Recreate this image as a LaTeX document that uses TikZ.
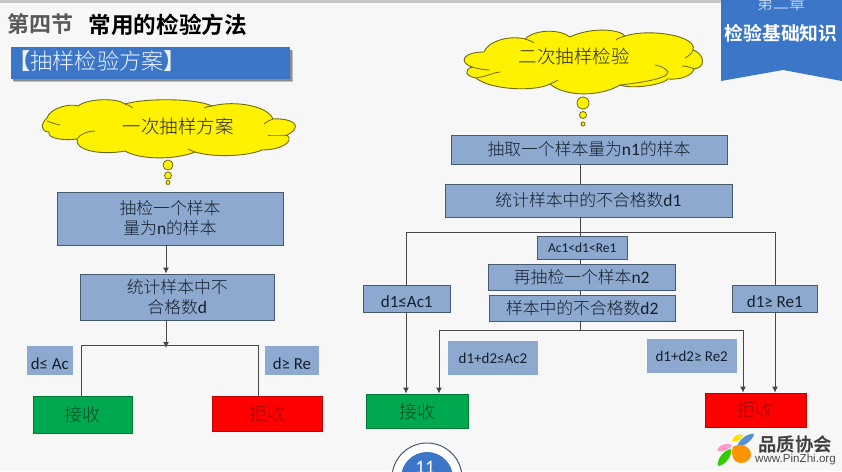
\documentclass[tikz,border=0pt]{standalone}
\usepackage{fontspec}
\setmainfont{Carlito}
\newfontfamily\cjkl{Noto Sans CJK SC Light}
\newfontfamily\cjkb{Noto Sans CJK SC Bold}
\newfontfamily\latn{Liberation Sans}
\newcommand{\lat}[1]{{\rmfamily\fontsize{17.5}{20}\selectfont #1}}
\newcommand{\tagtxt}[1]{\raisebox{0pt}[17pt][0pt]{#1}}
\definecolor{bg}{HTML}{F7F7F7}
\definecolor{boxfill}{HTML}{8EA9CF}
\definecolor{boxline}{HTML}{465A70}
\definecolor{tabblue}{HTML}{3B76C9}
\definecolor{inktxt}{HTML}{141E2C}
\definecolor{linec}{HTML}{474747}
\definecolor{cloudline}{HTML}{6E6A14}
\definecolor{okgreen}{HTML}{00A84F}
\usetikzlibrary{arrows.meta}
\tikzset{
  flowbox/.style={draw=boxline,line width=0.9pt,fill=boxfill,inner sep=0pt,align=center,text=inktxt,font=\fontsize{16.8}{20}\selectfont\cjkl},
  tagbox/.style={fill=boxfill,inner sep=0pt,align=center,text=inktxt,font=\fontsize{15}{18}\selectfont},
  okbox/.style={draw=okgreen!70!black,line width=0.8pt,fill=okgreen,inner sep=0pt,text=okgreen!45!black,font=\fontsize{18}{22}\selectfont\cjkl},
  nobox/.style={draw=red!75!black,line width=0.8pt,fill=red,inner sep=0pt,text=red!60!black,font=\fontsize{18}{22}\selectfont\cjkl},
  link/.style={draw=linec,line width=1pt},
  arrowlink/.style={link,-{Latex[length=6pt,width=6pt]}},
  cloudshape/.style={draw=cloudline,line width=0.9pt,fill=yellow},
  crease/.style={draw=cloudline,line width=0.8pt},
  cloudtext/.style={inner sep=0pt,text=black!85,font=\fontsize{18.5}{22}\selectfont\cjkl},
}
\begin{document}
\begin{tikzpicture}[x=1pt,y=-1pt]
\useasboundingbox (0,0) rectangle (842,471);
\clip (0,0) rectangle (842,471);
\fill[bg] (0,0) rectangle (842,471);
\fill[black!22] (0,0) rectangle (842,3);
% chapter tab
\fill[tabblue] (721,0) -- (842,0) -- (842,81) -- (783,70) -- (721,81) -- cycle;
\node[inner sep=0pt,text=white!90!tabblue,font=\fontsize{16}{18}\selectfont\cjkl] (chap) at (781,3) {第二章};
\node[inner sep=0pt,text=white,font=\fontsize{18.8}{20}\selectfont\cjkb] (chapname) at (781,33) {检验基础知识};
% titles
\node[anchor=west,inner sep=0pt,text=black!65,font=\fontsize{22}{24}\selectfont\cjkb] (sec) at (7.5,24) {第四节};
\node[anchor=west,inner sep=0pt,text=black,font=\fontsize{22.6}{24}\selectfont\cjkb] (sectitle) at (88.5,24.5) {常用的检验方法};
% banner
\fill[black!25] (13.5,50) rectangle (292.5,81.5);
\fill[black!45] (13,49.5) rectangle (291.5,80.5);
\fill[tabblue] (11,47) rectangle (290,79);
\node[anchor=west,inner sep=0pt,text=white!92!tabblue,font=\fontsize{22.2}{26}\selectfont\cjkl] (banner) at (8,61.5) {{\cjkb 【}抽样检验方案{\cjkb 】}};
% cloud 1
\path[cloudshape] (47,118)
  .. controls (50,108) and (70,103) .. (78,106)
  .. controls (88,98) and (118,98) .. (125,104)
  .. controls (145,98) and (195,98) .. (212,106)
  .. controls (235,100) and (268,106) .. (273,119)
  .. controls (285,118) and (298,122) .. (295,128)
  .. controls (293,133) and (288,134) .. (287,135)
  .. controls (295,142) and (280,150) .. (262,150)
  .. controls (248,156) and (215,158) .. (195,152)
  .. controls (175,160) and (140,160) .. (125,151)
  .. controls (105,155) and (75,152) .. (77,139)
  .. controls (62,141) and (47,138) .. (49,132)
  .. controls (41,132) and (40,124) .. (47,118) -- cycle;
\draw[crease] (47,121) .. controls (52,123) and (56,124) .. (60,125);
\draw[crease] (77,139) .. controls (80,134) and (88,131) .. (95,131);
\draw[crease] (287,135) .. controls (280,135) and (273,135) .. (268,135);
\draw[crease] (273,119) .. controls (268,121) and (266,122) .. (264,124);
\draw[crease] (125,104) .. controls (128,105) and (131,106) .. (133,108);
\draw[crease] (212,106) .. controls (209,106) and (206,107) .. (204,108);
\draw[crease] (195,152) .. controls (192,151) and (190,150) .. (188,149);
\node[cloudtext] (c1txt) at (178,126) {一次抽样方案};
\node[circle,draw=cloudline,fill=yellow,line width=0.8pt,minimum size=10pt,inner sep=0pt] (c1a) at (168,165) {};
\node[circle,draw=cloudline,fill=yellow,line width=0.8pt,minimum size=7pt,inner sep=0pt] (c1b) at (168,175.5) {};
\node[circle,draw=cloudline,fill=yellow,line width=0.8pt,minimum size=4pt,inner sep=0pt] (c1c) at (168,182.5) {};
% cloud 2
\path[cloudshape] (484,52)
  .. controls (488,41) and (510,35) .. (525,39)
  .. controls (535,29) and (560,29) .. (570,37)
  .. controls (590,27) and (620,29) .. (625,36)
  .. controls (650,28) and (698,36) .. (693,50)
  .. controls (705,54) and (706,68) .. (694,69)
  .. controls (692,76) and (680,80) .. (668,79)
  .. controls (660,86) and (630,89) .. (620,85)
  .. controls (600,97) and (565,97) .. (550,84)
  .. controls (535,92) and (490,90) .. (476,78)
  .. controls (465,76) and (464,70) .. (472,67)
  .. controls (458,62) and (463,52) .. (484,52) -- cycle;
\draw[crease] (472,67) .. controls (478,69) and (485,70) .. (490,70);
\draw[crease] (476,78) .. controls (488,76) and (495,72) .. (500,72);
\draw[crease] (550,84) .. controls (553,83) and (556,81) .. (558,80);
\draw[crease] (620,85) .. controls (628,84) and (668,80) .. (668,72) .. controls (666,68) and (660,66) .. (655,65);
\draw[crease] (693,50) .. controls (692,53) and (689,56) .. (685,58);
\draw[crease] (694,69) .. controls (690,67) and (686,66) .. (682,66);
\draw[crease] (525,39) .. controls (528,40) and (532,41) .. (534,43);
\draw[crease] (625,36) .. controls (622,37) and (618,38) .. (616,40);
\node[cloudtext] (c2txt) at (574,56) {二次抽样检验};
\node[circle,draw=cloudline,fill=yellow,line width=0.8pt,minimum size=12pt,inner sep=0pt] (c2a) at (583,103) {};
\node[circle,draw=cloudline,fill=yellow,line width=0.8pt,minimum size=7pt,inner sep=0pt] (c2b) at (583,115) {};
\node[circle,draw=cloudline,fill=yellow,line width=0.8pt,minimum size=4pt,inner sep=0pt] (c2c) at (583,124) {};
% page number
\node[circle,draw=boxline,fill=white,line width=1pt,minimum size=70pt,inner sep=0pt] (pgo) at (427,478) {};
\node[circle,fill=tabblue,minimum size=52pt,inner sep=0pt] (pgi) at (427,478) {};
\node[inner sep=0pt,text=white,font=\fontsize{19}{20}\selectfont] (pgn) at (425,467) {11};
% left flow
\coordinate (jl) at (166,345);
\coordinate (ja) at (81,345);
\coordinate (jb) at (258.5,345);
\node[flowbox,minimum width=226pt,minimum height=53pt] (a1) at (170,218.5) {抽检一个样本\\量为\lat{n}的样本};
\node[flowbox,minimum width=194.5pt,minimum height=46pt] (a2) at (177.25,297) {统计样本中不\\合格数\lat{d}};
\node[tagbox,minimum width=46.5pt,minimum height=29pt,font=\fontsize{16.8}{18}\selectfont] (tl1) at (49.75,360.5) {\tagtxt{d≤ Ac}};
\node[tagbox,minimum width=54pt,minimum height=29pt,font=\fontsize{16.8}{18}\selectfont] (tl2) at (292,360.5) {\tagtxt{d≥ Re}};
\node[okbox,minimum width=99pt,minimum height=37pt] (ok1) at (82.5,414.5) {接收};
\node[nobox,minimum width=110pt,minimum height=35pt] (no1) at (267,413.5) {拒收};
\draw[arrowlink] (a1.south -| jl) -- (a2.north -| jl);
\draw[arrowlink] (a2.south -| jl) -- ([yshift=-3pt]jl);
\draw[link] (ok1.north -| ja) -- (ja) -- (jb) -- (no1.north -| jb);
% right flow
\coordinate (jm) at (580,232);
\coordinate (jm2) at (580,330);
\coordinate (jc) at (406,232);
\coordinate (jd) at (775,232);
\coordinate (je) at (439,330);
\coordinate (jf) at (743,330);
\node[flowbox,minimum width=276pt,minimum height=29pt] (b1) at (589,149.5) {抽取一个样本量为\lat{n1}的样本};
\node[flowbox,minimum width=287pt,minimum height=33pt] (b2) at (588.5,200.5) {统计样本中的不合格数\lat{d1}};
\node[flowbox,minimum width=90.5pt,minimum height=22.5pt,font=\fontsize{13.5}{15}\selectfont] (b3) at (582.25,247.75) {Ac1<d1<Re1};
\node[flowbox,minimum width=186.5pt,minimum height=26.5pt] (b4) at (581.75,277.25) {再抽检一个样本\lat{n2}};
\node[flowbox,minimum width=185.5pt,minimum height=26pt] (b5) at (582.25,308) {样本中的不合格数\lat{d2}};
\node[flowbox,minimum width=86.5pt,minimum height=27pt,font=\fontsize{17}{18}\selectfont] (b6) at (406.75,298.5) {\tagtxt{d1≤Ac1}};
\node[flowbox,minimum width=84.5pt,minimum height=27pt,font=\fontsize{17}{18}\selectfont] (b7) at (774.75,298.5) {\tagtxt{d1≥ Re1}};
\node[tagbox,minimum width=90pt,minimum height=34pt] (t1) at (493,358) {d1+d2≤Ac2};
\node[tagbox,minimum width=90pt,minimum height=34pt] (t2) at (691.7,356) {d1+d2≥ Re2};
\node[okbox,minimum width=102pt,minimum height=34.5pt] (ok2) at (417,411.25) {接收};
\node[nobox,minimum width=101.5pt,minimum height=34pt] (no2) at (755.75,410) {拒收};
\draw[link] (b1.south -| jm) -- (b2.north -| jm);
\draw[link] (b2.south -| jm) -- (b3.north -| jm);
\draw[link] (b3.south -| jm) -- (b4.north -| jm);
\draw[link] (b4.south -| jm) -- (b5.north -| jm);
\draw[link] (b5.south -| jm) -- (jm2);
\draw[link] (b6.north -| jc) -- (jc) -- (jd) -- (b7.north -| jd);
\draw[arrowlink] (b6.south -| jc) -- (ok2.north -| jc);
\draw[arrowlink] (b7.south -| jd) -- (no2.north -| jd);
\draw[arrowlink] (je) -- (ok2.north -| je);
\draw[arrowlink] (jf) -- (no2.north -| jf);
\draw[link] (je) -- (jf);
% logo
\fill[pink!80!magenta] (717,451) .. controls (718,445) and (726,442) .. (732,445) .. controls (730,449) and (722,453) .. (717,451) -- cycle;
\fill[yellow!85!orange] (732,441) .. controls (733,436) and (738,433) .. (743,435) .. controls (742,439) and (737,443) .. (732,441) -- cycle;
\fill[cyan!55!blue!70] (737,447) .. controls (739,439) and (748,433) .. (754,434) .. controls (753,440) and (744,447) .. (737,447) -- cycle;
\fill[orange!85!yellow] (733,447) .. controls (740,442) and (751,446) .. (751,455) .. controls (750,463) and (740,465) .. (735,461) .. controls (732,457) and (731,451) .. (733,447) -- cycle;
\fill[green!60!olive] (718,466) .. controls (717,458) and (724,450) .. (731,449) .. controls (732,456) and (726,465) .. (718,466) -- cycle;
\node[anchor=west,inner sep=0pt,text=black!75,font=\fontsize{18.4}{20}\selectfont\cjkb] (lg1) at (758,444) {品质协会};
\node[anchor=west,inner sep=0pt,text=black!70,font=\fontsize{11.6}{13}\selectfont\latn] (lg2) at (755,459.5) {www.PinZhi.org};
\end{tikzpicture}
\end{document}
